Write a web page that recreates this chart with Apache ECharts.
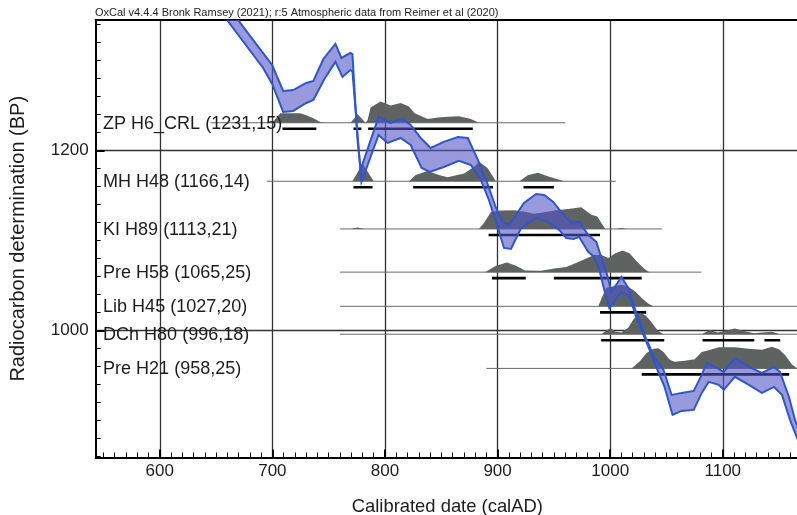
<!DOCTYPE html>
<html><head><meta charset="utf-8">
<script src="https://cdn.jsdelivr.net/npm/echarts@6/dist/echarts.min.js"></script>
<style>html,body{margin:0;padding:0;background:#fff}#c{width:797px;height:515px}</style>
</head><body><div id="c"></div>
<script>
// ---- axes ----
const xRange = [543, 1167.7];
const yRange = [859, 1345.2];
const xMajorTicks = [600, 700, 800, 900, 1000, 1100];
const yMajorTicks = [1000, 1200];
const xMinorStep = 10;
const yMinorStep = 20;
const titleText = 'OxCal v4.4.4 Bronk Ramsey (2021); r:5 Atmospheric data from Reimer et al (2020)';
const xTitle = 'Calibrated date (calAD)';
const yTitle = 'Radiocarbon determination (BP)';

// ---- samples ----
const sampleNames = ['ZP H6_CRL', 'MH H48', 'KI H89', 'Pre H58', 'Lib H45', 'DCh H80', 'Pre H21'];
const sampleBP = [1231, 1166, 1113, 1065, 1027, 996, 958];
const sampleErr = [15, 14, 21, 25, 20, 18, 25];
const baselineFrom = [645, 695, 760, 760, 760, 760, 890];
const baselineTo = [960, 1005, 1046, 1081, 1168, 1168, 1168];

// relative probability density [calAD, relative height]
const distZP = [[699.8,0],[707,0.44],[724.8,0.44],[730.1,0.35],[736.4,0.21],[742.6,0.03],[747.1,0],[769.3,0],[772.9,0.21],[775.6,0.40],[779.1,0.21],[782.7,0],[784.5,0.12],[787.2,0.71],[796.1,0.99],[805,0.80],[813.9,0.92],[821,0.76],[826.4,0.44],[838,0.17],[846.9,0.24],[855.8,0.28],[865.6,0.30],[876.3,0.17],[883.4,0]];
const distMH = [[771,0],[775,0.35],[780,0.84],[785,0.4],[790,0],[821.3,0],[827.3,0.29],[837.7,0.48],[848,0.29],[855.5,0.19],[870.3,0.36],[879.2,0.67],[883.7,0.90],[891.2,0.60],[898.6,0],[919.3,0],[926.8,0.28],[935.7,0.39],[944.6,0.23],[959.2,0]];
const distKI = [[769.3,0],[775.6,0.07],[781.8,0],[883.4,0],[887.9,0.28],[894.1,0.79],[903,0.85],[914.6,0.87],[925.3,0.79],[932.4,0.70],[943.1,0.79],[952,0.87],[962.7,0.92],[974.3,1.0],[978.8,0.83],[983.2,0.66],[988.6,0.58],[992.2,0.28],[995.7,0],[1005,0],[1010,0.04],[1015,0]];
const distPre58 = [[888.8,0],[898.6,0.29],[908.4,0.45],[916.4,0.29],[924.4,0.08],[938.7,0.06],[950.3,0.17],[961,0.24],[971.7,0.47],[979.7,0.65],[985.9,0.79],[992.2,0.79],[998.4,0.65],[1004.6,0.88],[1010.9,1.0],[1017.1,0.88],[1024.2,0.47],[1030.5,0.15],[1034.9,0]];
const distLib = [[989.5,0],[993,0.45],[996.6,0.86],[1002.9,0.93],[1010,1.0],[1016.2,0.91],[1022.5,0.68],[1028.7,0.35],[1034,0.12],[1038.5,0]];
const distDCh = [[992.2,0],[996.6,0.17],[1000.2,0.29],[1004.6,0.12],[1010,0.08],[1016.2,0.31],[1020.7,0.69],[1026.1,1.0],[1031.4,0.88],[1036.8,0.55],[1042.1,0.17],[1047.4,0],[1081.3,0],[1088.4,0.19],[1095.5,0.08],[1103.6,0.17],[1110.7,0.27],[1118.7,0.15],[1127.6,0.05],[1134.8,0.08],[1143.7,0.12],[1150.8,0]];
const distPre21 = [[1018.9,0],[1026,0.31],[1032.3,0.71],[1038.5,0.91],[1043,0.93],[1047.4,0.76],[1052.8,0.40],[1057.3,0.31],[1066.1,0.36],[1075,0.42],[1081.3,0.76],[1087.5,0.84],[1096.4,0.98],[1110.7,0.98],[1123.2,0.91],[1134.8,0.87],[1143.7,1.0],[1149.9,0.89],[1155.3,0.62],[1161.5,0.18],[1166,0]];
const sampleDist = [distZP, distMH, distKI, distPre58, distLib, distDCh, distPre21];

// 95.4% ranges [from, to] calAD
const rangesZP = [[709,739],[772,779],[785,878]];
const rangesMH = [[772,789],[825,896],[923,950]];
const rangesKI = [[892,991]];
const rangesPre58 = [[895,925],[950,1028]];
const rangesLib = [[991,1032]];
const rangesDCh = [[992,1048],[1082,1128],[1137,1151]];
const rangesPre21 = [[1028,1159]];
const sampleRanges = [rangesZP, rangesMH, rangesKI, rangesPre58, rangesLib, rangesDCh, rangesPre21];

// ---- calibration curve (IntCal20) 1-sigma envelope [calAD, BP] ----
const calUpper = [[669.5,1345.2],[690.9,1309.7],[699.8,1295.2],[709.6,1266.3],[718.5,1267.4],[730.1,1275.2],[736.4,1277.4],[745.3,1301.9],[756.0,1318.6],[761.3,1303.0],[769.3,1308.6],[771.1,1307.4],[775.6,1211.9],[778.3,1178.6],[794.3,1237.4],[805.0,1230.8],[815.7,1235.2],[822.8,1228.6],[831.7,1214.1],[840.6,1203.0],[852.2,1209.7],[864.7,1215.2],[873.6,1214.1],[882.5,1189.7],[891.4,1161.9],[898.6,1136.3],[904.8,1120.8],[910.2,1117.4],[923.5,1141.9],[934.2,1151.9],[941.4,1150.8],[949.4,1143.0],[956.5,1131.9],[965.4,1119.7],[972.5,1120.8],[980.6,1106.3],[987.7,1098.6],[992.2,1080.8],[996.6,1065.2],[1001.1,1043.0],[1010.0,1059.7],[1017.1,1045.2],[1021.6,1025.2],[1030.5,995.2],[1039.4,969.7],[1047.4,956.3],[1054.5,928.6],[1063.5,930.8],[1074.2,933.0],[1081.3,950.8],[1085.7,964.1],[1094.7,958.6],[1100.9,954.1],[1110.7,969.7],[1123.2,959.7],[1134.8,953.0],[1145.5,959.7],[1150.8,954.1],[1158.8,926.3],[1164.2,900.8],[1167.7,889.7]];
const calLower = [[659.7,1345.2],[691.8,1291.9],[699.8,1274.1],[709.6,1243.0],[718.5,1244.1],[730.1,1253.0],[736.4,1256.3],[746.2,1279.7],[756.0,1298.6],[762.2,1281.9],[769.3,1289.7],[771.1,1288.0],[779.1,1165.2],[794.3,1217.4],[802.3,1208.6],[813.9,1214.1],[822.8,1206.3],[832.6,1180.8],[839.8,1176.3],[852.2,1181.9],[865.6,1188.6],[876.3,1184.1],[885.2,1167.4],[892.3,1145.2],[898.6,1120.8],[905.7,1091.9],[911.9,1090.8],[920.9,1114.1],[934.2,1125.2],[944.9,1120.8],[954.7,1111.9],[961.0,1103.0],[967.2,1101.9],[972.5,1104.1],[980.6,1087.4],[985.9,1081.9],[990.4,1067.4],[994.8,1045.2],[999.3,1025.2],[1010.0,1042.9],[1017.1,1037.4],[1025.1,1008.6],[1034.0,981.9],[1041.2,958.6],[1048.3,937.4],[1055.4,906.3],[1063.5,910.8],[1074.2,911.9],[1081.3,930.8],[1087.5,943.0],[1096.4,939.7],[1100.9,934.2],[1110.7,948.6],[1123.2,939.7],[1134.8,930.8],[1145.5,937.4],[1152.6,928.6],[1159.7,900.8],[1167.7,875.2]];

// ---- style ----
const FONT = '"Liberation Sans", Arial, sans-serif';
const DIST_SCALE = 24;      // BP units for relative density 1
const BAR_OFFSET = 6;       // px below baseline
const GRAY = '#5e6361';
const BAND_FILL = 'rgba(85,85,200,0.6)';
const BAND_LINE = '#3057c4';

const xMinorTicks = [];
for (let v = Math.ceil(xRange[0] / xMinorStep) * xMinorStep; v <= xRange[1]; v += xMinorStep) xMinorTicks.push(v);
const yMinorTicks = [];
for (let v = Math.ceil(yRange[0] / yMinorStep) * yMinorStep; v <= yRange[1]; v += yMinorStep) yMinorTicks.push(v);

function renderSample(params, api) {
  const i = params.dataIndex;
  const bp = sampleBP[i];
  const d = sampleDist[i];
  const children = [];
  const b0 = api.coord([baselineFrom[i], bp]);
  const b1 = api.coord([baselineTo[i], bp]);
  children.push({type: 'line', shape: {x1: b0[0], y1: b0[1], x2: b1[0], y2: b1[1]},
    style: {stroke: '#6a6a6a', lineWidth: 1}});
  const pts = d.map(p => api.coord([p[0], bp + p[1] * DIST_SCALE]));
  children.push({type: 'polygon', shape: {points: pts}, style: {fill: GRAY}});
  sampleRanges[i].forEach(r => {
    const a = api.coord([r[0], bp]);
    const b = api.coord([r[1], bp]);
    children.push({type: 'line', shape: {x1: a[0], y1: a[1] + BAR_OFFSET, x2: b[0], y2: b[1] + BAR_OFFSET},
      style: {stroke: '#000', lineWidth: 2.6}});
  });
  const l = api.coord([xRange[0], bp]);
  children.push({type: 'text', style: {text: sampleNames[i] + ' (' + bp + ',' + sampleErr[i] + ')',
    x: l[0] + 7.5, y: l[1] + 1, verticalAlign: 'middle', align: 'left',
    fontSize: 18, fontFamily: FONT, fill: '#1c1c1c'}});
  return {type: 'group', children};
}

function renderBand(params, api) {
  const up = calUpper.map(p => api.coord(p));
  const lo = calLower.map(p => api.coord(p));
  const poly = up.concat(lo.slice().reverse());
  return {type: 'group', children: [
    {type: 'polygon', shape: {points: poly}, style: {fill: BAND_FILL}},
    {type: 'polyline', shape: {points: up}, style: {stroke: BAND_LINE, lineWidth: 2, fill: null}},
    {type: 'polyline', shape: {points: lo}, style: {stroke: BAND_LINE, lineWidth: 2, fill: null}}
  ]};
}

const plain = v => String(v);

const chart = echarts.init(document.getElementById('c'), null, {renderer: 'canvas'});
chart.setOption({
  animation: false,
  backgroundColor: '#fff',
  title: {text: titleText, left: 95, top: 7.5, padding: 0,
    textStyle: {fontSize: 11, fontWeight: 'normal', color: '#222', fontFamily: FONT}},
  grid: {left: 95.6, top: 20, right: -2, bottom: 57.5, containLabel: false, outerBoundsMode: 'none'},
  xAxis: [
    {type: 'value', position: 'bottom', min: xRange[0], max: xRange[1],
      name: xTitle, nameLocation: 'middle', nameGap: 40,
      nameTextStyle: {fontSize: 18.4, color: '#1c1c1c', fontFamily: FONT},
      axisLine: {show: true, onZero: false, lineStyle: {color: '#000', width: 2}},
      axisTick: {show: true, inside: true, length: 8, customValues: xMajorTicks, lineStyle: {color: '#000', width: 2}},
      axisLabel: {customValues: xMajorTicks, formatter: plain, fontSize: 17, color: '#1c1c1c', margin: 5, fontFamily: FONT},
      splitLine: {show: true, lineStyle: {color: '#333', width: 1.3}}},
    {type: 'value', position: 'bottom', min: xRange[0], max: xRange[1],
      axisLine: {show: false},
      axisTick: {show: true, inside: true, length: 5, customValues: xMinorTicks, lineStyle: {color: '#000', width: 1}},
      axisLabel: {show: false}, splitLine: {show: false}},
    {type: 'value', position: 'top', min: xRange[0], max: xRange[1],
      axisLine: {show: true, onZero: false, lineStyle: {color: '#000', width: 2}},
      axisTick: {show: false}, axisLabel: {show: false}, splitLine: {show: false}}
  ],
  yAxis: [
    {type: 'value', position: 'left', min: yRange[0], max: yRange[1],
      name: yTitle, nameLocation: 'middle', nameGap: 67,
      nameTextStyle: {fontSize: 20, color: '#1c1c1c', fontFamily: FONT},
      axisLine: {show: true, onZero: false, lineStyle: {color: '#000', width: 2}},
      axisTick: {show: true, inside: true, length: 9, customValues: yMajorTicks, lineStyle: {color: '#000', width: 2}},
      axisLabel: {customValues: yMajorTicks, formatter: plain, fontSize: 17, color: '#1c1c1c', margin: 7, fontFamily: FONT},
      splitLine: {show: true, lineStyle: {color: '#333', width: 1.3}}},
    {type: 'value', position: 'left', min: yRange[0], max: yRange[1],
      axisLine: {show: false},
      axisTick: {show: true, inside: true, length: 5, customValues: yMinorTicks, lineStyle: {color: '#000', width: 1}},
      axisLabel: {show: false}, splitLine: {show: false}}
  ],
  series: [
    {type: 'custom', name: 'samples', xAxisIndex: 0, yAxisIndex: 0, clip: true,
      renderItem: renderSample, data: sampleBP.map((bp, i) => [xRange[0], bp, i]), z: 2},
    {type: 'custom', name: 'IntCal20', xAxisIndex: 0, yAxisIndex: 0, clip: true,
      renderItem: renderBand, data: [[xRange[0], yRange[0]]], z: 3}
  ]
});
</script>
</body></html>
